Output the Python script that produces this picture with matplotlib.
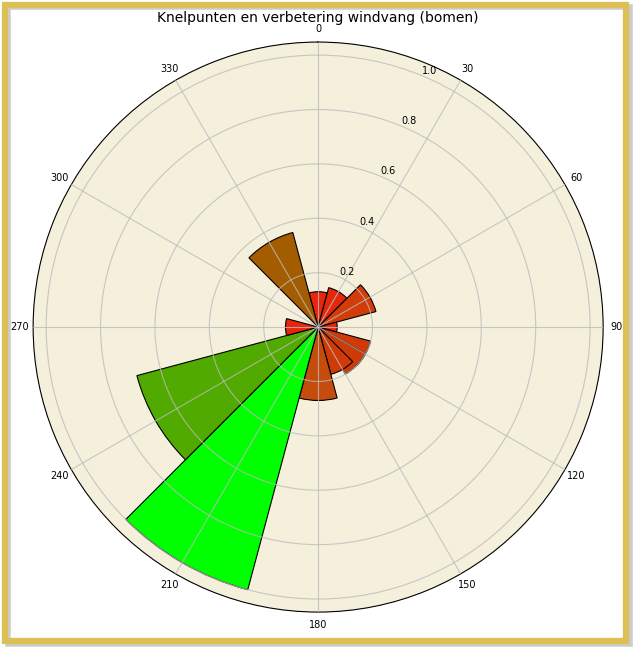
import numpy as np
import matplotlib
matplotlib.use("Agg")
import matplotlib.pyplot as plt
from matplotlib.patches import Rectangle

# direction (deg), value, colour
directions = [0, 30, 60, 90, 120, 135, 150, 180, 210, 240, 270, 330]
values = [0.13, 0.15, 0.22, 0.07, 0.20, 0.20, 0.18, 0.27, 1.00, 0.69, 0.12, 0.36]
bar_colors = ["#e8260c", "#e4280c", "#d13c08", "#e8260c", "#d03a06", "#d03a06",
              "#d03a06", "#c44c0c", "#00ff00", "#50aa00", "#e8260c", "#a45c00"]
width_deg = 30

fig = plt.figure(figsize=(6.35, 6.47), dpi=100)
fig.patches.append(Rectangle((0.012, 0.004), 0.98, 0.985, transform=fig.transFigure,
                             fill=False, edgecolor="#aaaaaa", linewidth=4, alpha=0.6))
fig.patches.append(Rectangle((0.008, 0.01), 0.978, 0.982, transform=fig.transFigure,
                             fill=False, edgecolor="#dcc055", linewidth=4.5))

ax = fig.add_axes([0.052, 0.054, 0.898, 0.881], projection="polar")
ax.set_facecolor("#f5f0dc")
ax.set_theta_zero_location("N")
ax.set_theta_direction(-1)
ax.bar(np.radians(directions), values, width=np.radians(width_deg),
       color=bar_colors, edgecolor="black", linewidth=0.8, zorder=1)
ax.set_ylim(0, 1.048)
ax.set_yticks([0.2, 0.4, 0.6, 0.8, 1.0])
ax.set_yticklabels(["0.2", "0.4", "0.6", "0.8", "1.0"], fontsize=7)
ax.set_rlabel_position(22.5)
ax.set_xticks(np.radians(np.arange(0, 360, 30)))
ax.set_xticklabels([str(d) for d in range(0, 360, 30)], fontsize=7)
ax.tick_params(axis="x", pad=-1)
ax.set_axisbelow(False)
ax.grid(color="#bbbbbb", linewidth=0.8, alpha=0.8)
ax.spines["polar"].set_linewidth(0.8)
fig.text(0.5, 0.966, "Knelpunten en verbetering windvang (bomen)", ha="center",
         fontsize=10)
fig.savefig("out.png", dpi=100)
